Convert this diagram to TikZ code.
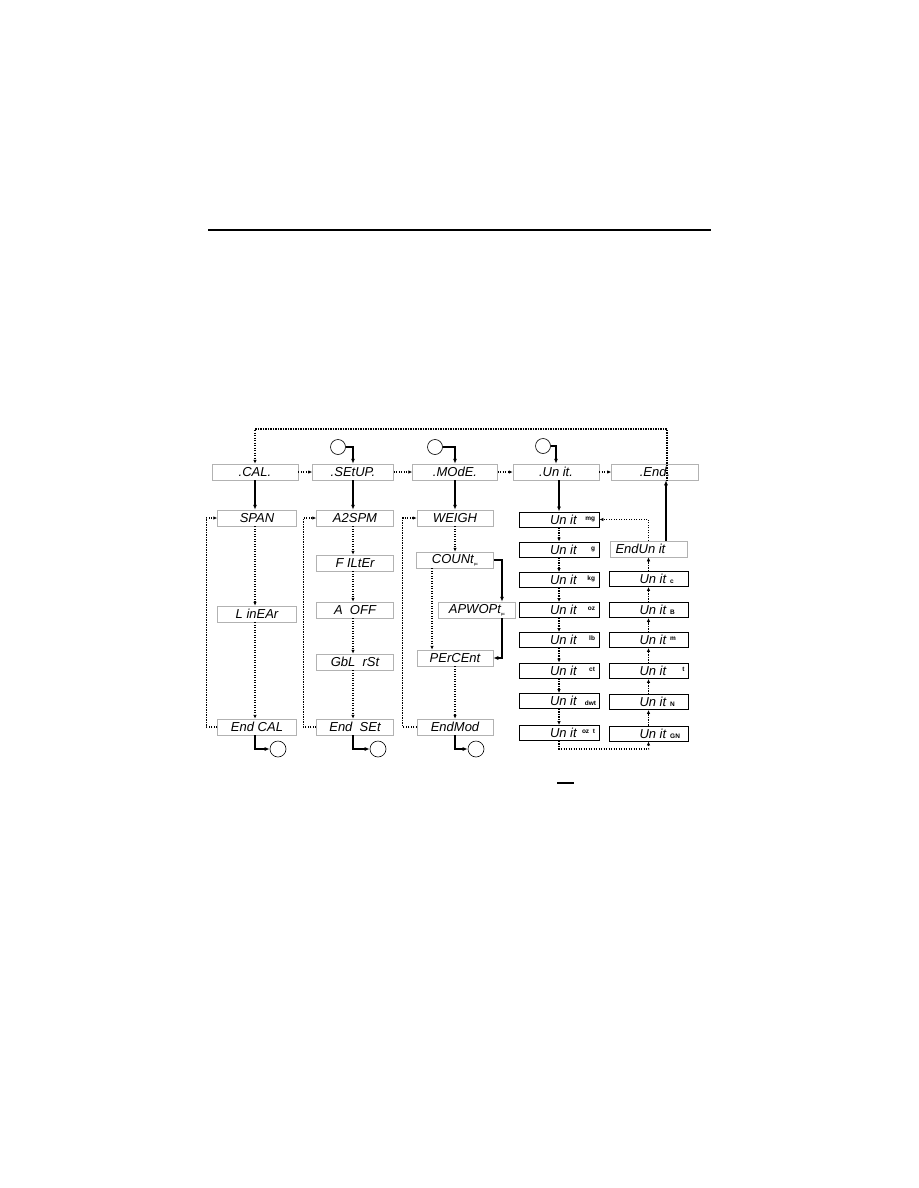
\documentclass[tikz,border=0pt]{standalone}
\usepackage{fontspec}
\setmainfont{Liberation Sans}
\usetikzlibrary{arrows.meta}
\tikzset{
  disp/.style={draw=black!30, line width=0.5pt, minimum height=16pt, inner sep=0pt, font=\fontsize{13}{13}\selectfont\itshape},
  ubox/.style={draw=black, line width=0.9pt, minimum width=80pt, minimum height=15pt, inner sep=0pt, font=\fontsize{13}{13}\selectfont\itshape},
  sol/.style={line width=1.3pt, -{Latex[length=5pt,width=4pt]}},
  dot/.style={line width=1.2pt, dash pattern=on 1.2pt off 1.3pt, -{Latex[length=4pt,width=3.5pt]}},
  conn/.style={circle, draw=black, line width=0.6pt, minimum size=15pt, inner sep=0pt},
}
\newcommand\ulab[1]{\makebox[78pt][l]{\hspace{30pt}Un it\hfill\raisebox{4pt}{\fontsize{6.5}{6.5}\selectfont\upshape\bfseries #1}\hspace{3pt}}}
\newcommand\rlab[2]{\makebox[78pt][l]{\hspace{30pt}Un it\hspace{4pt}\raisebox{#2}{\fontsize{6.5}{6.5}\selectfont\upshape\bfseries #1}\hfill}}
\begin{document}
\begin{tikzpicture}[x=1pt,y=-1pt]
\useasboundingbox (0,0) rectangle (918,1188);
\fill[white] (0,0) rectangle (918,1188);
% header rule
\draw[line width=2pt] (208,230) -- (711,230);

% top row
\node[disp, minimum width=86pt] (CAL) at (255,472) {.CAL.};
\node[disp, minimum width=81pt] (SET) at (353,472) {.SEtUP.};
\node[disp, minimum width=85pt] (MOD) at (455,472) {.MOdE.};
\node[disp, minimum width=86pt] (UNI) at (556,472) {.Un it.};
\node[disp, minimum width=87pt] (END) at (655,472) {.End.};

\draw[dot] (CAL.east) -- (SET.west);
\draw[dot] (SET.east) -- (MOD.west);
\draw[dot] (MOD.east) -- (UNI.west);
\draw[dot] (UNI.east) -- (END.west);

% top loop
\coordinate (topy) at (0,429);
\coordinate (endx) at (667,481);
\draw[dot] (endx) -- (endx |- topy) -- (CAL.north |- topy) -- (CAL.north);

% entry circles
\node[conn] (c1) at (338,447) {};
\node[conn] (c2) at (435,447) {};
\node[conn] (c3) at (543,446) {};
\draw[sol] (c1.east) -| (SET.north);
\draw[sol] (c2.east) -| (MOD.north);
\draw[sol] (c3.east) -| (UNI.north);

% column 1
\node[disp, minimum width=79pt] (SPAN) at (257,518) {SPAN};
\node[disp, minimum width=79pt] (LIN) at (257,614) {L inEAr};
\node[disp, minimum width=79pt] (ECAL) at (257,727) {End CAL};
\draw[sol] (CAL.south) -- (CAL.south |- SPAN.north);
\draw[dot] (CAL.south |- SPAN.south) -- (CAL.south |- LIN.north);
\draw[dot] (CAL.south |- LIN.south) -- (CAL.south |- ECAL.north);
\draw[dot] (ECAL.west) -- ++(-11,0) |- (SPAN.west);
\node[conn, minimum size=16pt] (c4) at (278,749) {};
\draw[sol] (CAL.south |- ECAL.south) |- (c4.west);

% column 2
\node[disp, minimum width=77pt] (AZ) at (355,518) {A2SPM};
\node[disp, minimum width=77pt] (FIL) at (355,563) {F ILtEr};
\node[disp, minimum width=77pt] (AOFF) at (355,610) {A \ OFF};
\node[disp, minimum width=77pt] (GBL) at (355,662) {GbL \ rSt};
\node[disp, minimum width=77pt] (ESET) at (355,727) {End \ SEt};
\draw[sol] (SET.south) -- (SET.south |- AZ.north);
\draw[dot] (SET.south |- AZ.south) -- (SET.south |- FIL.north);
\draw[dot] (SET.south |- FIL.south) -- (SET.south |- AOFF.north);
\draw[dot] (SET.south |- AOFF.south) -- (SET.south |- GBL.north);
\draw[dot] (SET.south |- GBL.south) -- (SET.south |- ESET.north);
\draw[dot] (ESET.west) -- ++(-13,0) |- (AZ.west);
\node[conn, minimum size=16pt] (c5) at (378,749) {};
\draw[sol] (SET.south |- ESET.south) |- (c5.west);

% column 3
\node[disp, minimum width=76pt] (WEI) at (455,518) {WEIGH};
\node[disp, minimum width=77pt] (CNT) at (455,560) {COUNt\raisebox{-2pt}{\fontsize{4}{4}\selectfont\upshape pc}};
\node[disp, minimum width=77pt] (APW) at (477,610) {APWOPt\raisebox{-2pt}{\fontsize{4}{4}\selectfont\upshape pc}};
\node[disp, minimum width=76pt] (PER) at (455,658) {PErCEnt};
\node[disp, minimum width=76pt] (EMOD) at (455,727) {EndMod};
\draw[sol] (MOD.south) -- (MOD.south |- WEI.north);
\draw[dot] (MOD.south |- WEI.south) -- (MOD.south |- CNT.north);
\coordinate (cx) at (502,0);
\coordinate (px) at (432,0);
\draw[sol] (CNT.east) -| (cx |- APW.north);
\draw[sol] (cx |- APW.south) |- (PER.east);
\draw[dot] (px |- CNT.south) -- (px |- PER.north);
\draw[dot] (MOD.south |- PER.south) -- (MOD.south |- EMOD.north);
\draw[dot] (EMOD.west) -- ++(-14,0) |- (WEI.west);
\node[conn, minimum size=16pt] (c6) at (476,749) {};
\draw[sol] (MOD.south |- EMOD.south) |- (c6.west);

% column 4 (units)
\node[ubox] (u1) at (559,519.5) {\ulab{mg}};
\node[ubox] (u2) at (559,549.5) {\ulab{g}};
\node[ubox] (u3) at (559,580) {\ulab{kg}};
\node[ubox] (u4) at (559,610) {\ulab{oz}};
\node[ubox] (u5) at (559,640) {\ulab{lb}};
\node[ubox] (u6) at (559,670.5) {\ulab{ct}};
\node[ubox] (u7) at (559,701) {\makebox[78pt][l]{\hspace{30pt}Un it\hfill{\fontsize{6.5}{6.5}\selectfont\upshape\bfseries dwt}\hspace{2pt}}};
\node[ubox] (u8) at (559,733) {\ulab{oz\ \ t}};
\draw[sol] (UNI.south -| u1.north) -- (u1.north);
\draw[dot] (u1.south) -- (u2.north);
\draw[dot] (u2.south) -- (u3.north);
\draw[dot] (u3.south) -- (u4.north);
\draw[dot] (u4.south) -- (u5.north);
\draw[dot] (u5.south) -- (u6.north);
\draw[dot] (u6.south) -- (u7.north);
\draw[dot] (u7.south) -- (u8.north);

% column 5
\node[disp, minimum width=77pt, minimum height=16pt] (EU) at (648.5,549) {\makebox[76pt][l]{\hspace{5pt}EndUn it}};
\node[ubox, minimum width=79pt] (v1) at (648.5,579) {\rlab{c}{0pt}};
\node[ubox, minimum width=79pt] (v2) at (648.5,610) {\rlab{B}{0pt}};
\node[ubox, minimum width=79pt] (v3) at (648.5,640) {\rlab{m}{4pt}};
\node[ubox, minimum width=79pt] (v4) at (648.5,671) {\makebox[78pt][l]{\hspace{30pt}Un it\hfill\raisebox{4pt}{\fontsize{6.5}{6.5}\selectfont\upshape\bfseries t}\hspace{3pt}}};
\node[ubox, minimum width=79pt] (v5) at (648.5,702) {\rlab{N}{0pt}};
\node[ubox, minimum width=79pt] (v6) at (648.5,733.5) {\rlab{GN}{0pt}};
\draw[dot] (v6.north) -- (v5.south);
\draw[dot] (v5.north) -- (v4.south);
\draw[dot] (v4.north) -- (v3.south);
\draw[dot] (v3.north) -- (v2.south);
\draw[dot] (v2.north) -- (v1.south);
\draw[dot] (v1.north) -- (EU.south);
\draw[dot] (EU.north) |- (u1.east);
\draw[dot] (u8.south) -- ++(0,8) -| (v6.south);
\coordinate (sx) at (666,0);
\draw[sol] (sx |- EU.north) -- (sx |- END.south);

% small mark
\draw[line width=1.5pt] (557,783) -- (574,783);
\end{tikzpicture}
\end{document}
